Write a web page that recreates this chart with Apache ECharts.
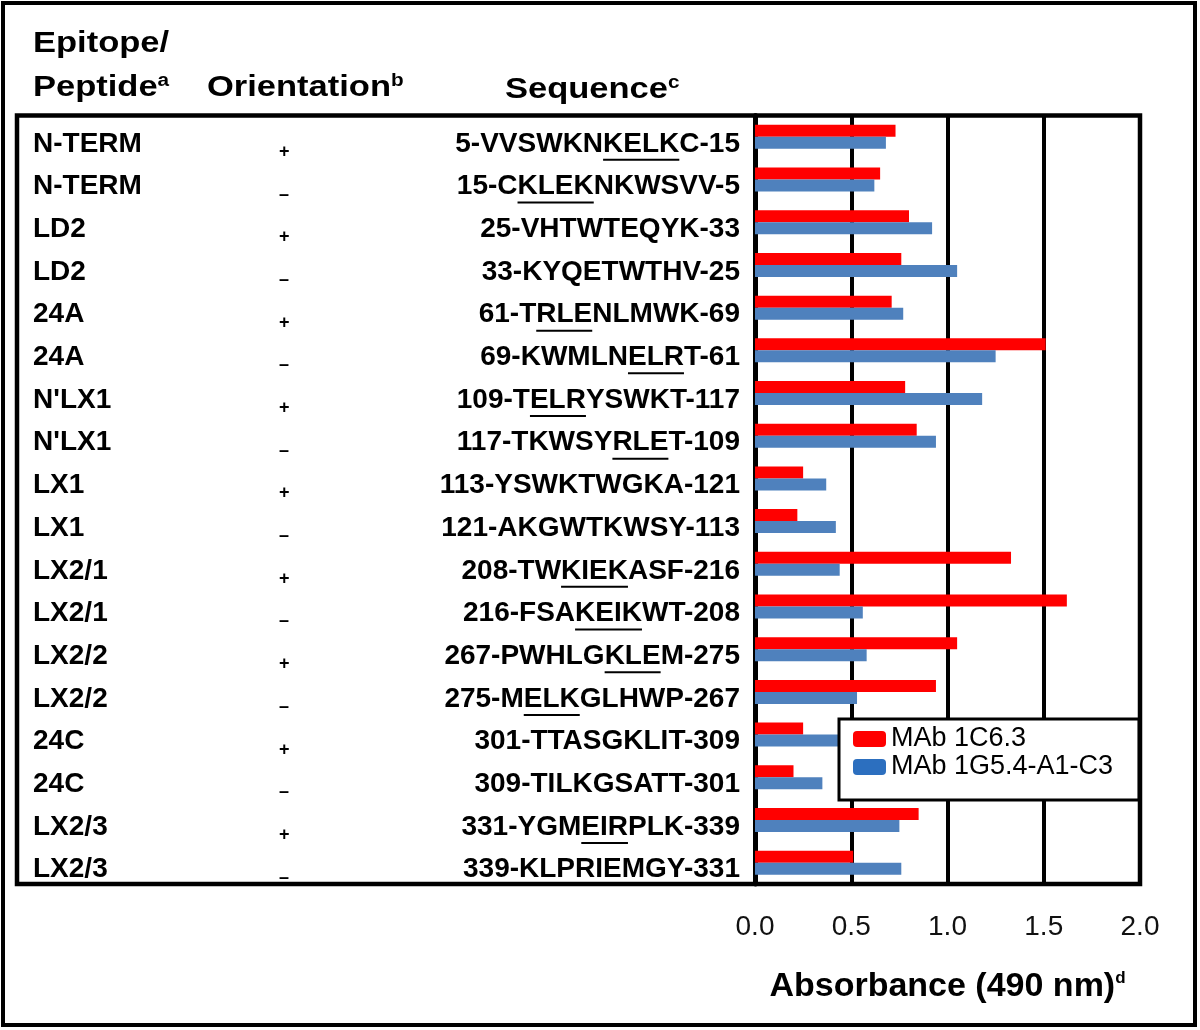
<!DOCTYPE html>
<html><head><meta charset="utf-8">
<script src="https://cdn.jsdelivr.net/npm/echarts@6/dist/echarts.min.js"></script>
<style>html,body{margin:0;padding:0;background:#fff}#c{width:1200px;height:1030px}</style>
</head><body><div id="c"></div>
<script>
// ---------- data ----------
const epitopes = ['N-TERM','N-TERM','LD2','LD2','24A','24A',"N'LX1","N'LX1",'LX1','LX1','LX2/1','LX2/1','LX2/2','LX2/2','24C','24C','LX2/3','LX2/3'];
const orientations = ['+','–','+','–','+','–','+','–','+','–','+','–','+','–','+','–','+','–'];
// sequence split: part before underline, underlined motif, part after
const seqPre   = ['5-VVSWKN','15-C','25-VHTWTEQYK-33','33-KYQETWTHV-25','61-T','69-KWMLN','109-T','117-TKWSY','113-YSWKTWGKA-121','121-AKGWTKWSY-113','208-TW','216-FSA','267-PWHLG','275-M','301-TTASGKLIT-309','309-TILKGSATT-301','331-YGM','339-KLPRIEMGY-331'];
const seqUnder = ['KELK','KLEK','','','RLE','ELR','ELR','RLE','','','KIEK','KEIK','KLE','ELK','','','EIR',''];
const seqPost  = ['C-15','NKWSVV-5','','','NLMWK-69','T-61','YSWKT-117','T-109','','','ASF-216','WT-208','M-275','GLHWP-267','','','PLK-339',''];
const seriesNames = ['MAb 1C6.3','MAb 1G5.4-A1-C3'];
const mab1C63 = [0.73,0.65,0.80,0.76,0.71,1.51,0.78,0.84,0.25,0.22,1.33,1.62,1.05,0.94,0.25,0.20,0.85,0.51];
const mab1G54 = [0.68,0.62,0.92,1.05,0.77,1.25,1.18,0.94,0.37,0.42,0.44,0.56,0.58,0.53,0.45,0.35,0.75,0.76];
const xMin = 0, xMax = 2, xStep = 0.5;
const axisTitle = 'Absorbance (490 nm)';
const axisTitleSup = 'd';
const headerEpitope = ['Epitope/','Peptide'];
const headerOrientation = 'Orientation';
const headerSequence = 'Sequence';
const headerSups = ['a','b','c'];

// ---------- helpers ----------
const FONT = '"Liberation Sans", Arial, Helvetica, sans-serif';
const mctx = document.createElement('canvas').getContext('2d');
mctx.font = 'bold 28px ' + FONT;
function tw(s){ return s ? mctx.measureText(s).width : 0; }

const rich = {
  ep: {fontFamily: FONT, fontWeight: 'bold', fontSize: 28, lineHeight: 30, width: 246, align: 'left', color: '#000'},
  or: {fontFamily: FONT, fontWeight: 'bold', fontSize: 18, lineHeight: 14, padding: [16,0,0,0], width: 30, align: 'left', color: '#000'},
  s:  {fontFamily: FONT, fontWeight: 'bold', fontSize: 28, lineHeight: 30, align: 'right', color: '#000'}
};
epitopes.forEach((_, i) => {
  rich['b' + i] = {width: Math.max(tw(seqUnder[i]), 1), height: 2, lineHeight: 2, fontSize: 2, align: 'right',
                   backgroundColor: seqUnder[i] ? '#000' : 'transparent', color: 'transparent'};
  rich['p' + i] = {width: Math.max(tw(seqPost[i]), 1), height: 2, lineHeight: 2, fontSize: 2, align: 'right', color: 'transparent'};
});

function yLabel(v, i) {
  let l1 = '{ep|' + epitopes[i] + '}{or|' + orientations[i] + '}{s|' + seqPre[i] + '}';
  if (seqUnder[i]) l1 += '{s|' + seqUnder[i] + '}';
  if (seqPost[i]) l1 += '{s|' + seqPost[i] + '}';
  return l1 + '\n{b' + i + '| }{p' + i + '| }';
}

const hdrStyle = {fontFamily: FONT, fontWeight: 'bold', fontSize: 30, lineHeight: 32, fill: '#000', verticalAlign: 'middle', align: 'left',
  rich: {sup: {fontFamily: FONT, fontWeight: 'bold', fontSize: 18, lineHeight: 18, verticalAlign: 'top', fill: '#000'}}};
function hdr(x, y, text) {
  return {type: 'text', x: x, y: y, scaleX: 1.15, silent: true, z: 50, style: Object.assign({}, hdrStyle, {text: text})};
}

const chart = echarts.init(document.getElementById('c'), null, {renderer: 'canvas'});
chart.setOption({
  animation: false,
  backgroundColor: '#fff',
  grid: {left: 755, right: 60, top: 115.5, bottom: 146, containLabel: false, outerBoundsMode: 'none'},
  legend: {
    left: 839, top: 719, orient: 'vertical', itemWidth: 33, itemHeight: 16, itemGap: 0, icon: 'roundRect',
    padding: [6, 26, 19, 14], backgroundColor: '#fff', borderColor: '#000', borderWidth: 3,
    textStyle: {fontFamily: FONT, fontSize: 27, color: '#000', lineHeight: 28},
    selectedMode: false,
    data: [{name: seriesNames[0]}, {name: seriesNames[1], itemStyle: {color: '#2c6fbf'}}]
  },
  xAxis: {
    type: 'value', min: xMin, max: xMax, interval: xStep,
    axisLine: {show: false}, axisTick: {show: false},
    splitLine: {show: true, lineStyle: {color: '#000', width: 4}},
    axisLabel: {formatter: v => v.toFixed(1), fontFamily: FONT, fontSize: 28, color: '#111', margin: 29},
    name: axisTitle + '{sup|' + axisTitleSup + '}', nameLocation: 'middle', nameGap: 86,
    nameTextStyle: {fontFamily: FONT, fontWeight: 'bold', fontSize: 34, color: '#000',
      rich: {sup: {fontFamily: FONT, fontWeight: 'bold', fontSize: 17, lineHeight: 17, verticalAlign: 'top', color: '#000'}}}
  },
  yAxis: {
    type: 'category', inverse: true, data: epitopes,
    axisLine: {show: true, lineStyle: {color: '#000', width: 5}},
    axisTick: {show: false}, splitLine: {show: false},
    axisLabel: {interval: 0, margin: 15, align: 'right', width: 707, overflow: 'none', padding: [16, 0, 0, 0],
      formatter: yLabel, rich: rich}
  },
  series: [
    {name: seriesNames[0], type: 'bar', data: mab1C63, barWidth: 12, barGap: '0%', itemStyle: {color: '#FF0000'}},
    {name: seriesNames[1], type: 'bar', data: mab1G54, barWidth: 12, barGap: '0%', itemStyle: {color: '#4F81BD'}}
  ],
  graphic: [
    {type: 'rect', silent: true, z: 40, shape: {x: 3, y: 3, width: 1192, height: 1022}, style: {fill: 'transparent', stroke: '#000', lineWidth: 4}},
    {type: 'rect', silent: true, z: 40, shape: {x: 17, y: 115.5, width: 1123, height: 768.5}, style: {fill: 'transparent', stroke: '#000', lineWidth: 4.5}},
    hdr(33, 44, headerEpitope[0]),
    hdr(33, 88, headerEpitope[1] + '{sup|' + headerSups[0] + '}'),
    hdr(207, 88, headerOrientation + '{sup|' + headerSups[1] + '}'),
    hdr(505, 90, headerSequence + '{sup|' + headerSups[2] + '}')
  ]
});
</script>
</body></html>
